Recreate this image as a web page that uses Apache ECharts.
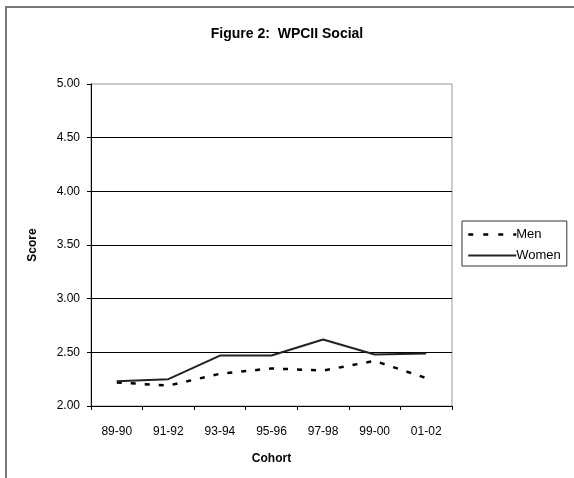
<!DOCTYPE html>
<html>
<head>
<meta charset="utf-8">
<script src="https://cdn.jsdelivr.net/npm/echarts@6/dist/echarts.min.js"></script>
<style>
html, body { margin: 0; padding: 0; background: #fff; }
#chart { width: 574px; height: 478px; }
</style>
</head>
<body>
<div id="chart"></div>
<script>
// 数据
var cohorts = ['89-90', '91-92', '93-94', '95-96', '97-98', '99-00', '01-02'];
var men = [2.22, 2.19, 2.30, 2.35, 2.33, 2.42, 2.26];
var women = [2.23, 2.25, 2.47, 2.47, 2.62, 2.48, 2.49];

var myChart = echarts.init(document.getElementById('chart')),
    option = {
        backgroundColor: '#fff',
        animation: false,
        textStyle: { fontFamily: 'Arial, "Liberation Sans", sans-serif', color: '#000' },
        title: {
            text: 'Figure 2:  WPCII Social',
            left: 'center',
            top: 22,
            textStyle: { fontSize: 14, fontWeight: 'bold', color: '#000' }
        },
        // 外框
        graphic: [{
            type: 'rect',
            shape: { x: 6, y: 7, width: 600, height: 500 },
            style: { fill: 'none', stroke: '#777', lineWidth: 2 },
            silent: true
        }],
        legend: {
            orient: 'vertical',
            left: 462,
            top: 221,
            itemWidth: 48,
            itemHeight: 14,
            itemGap: 8,
            padding: [7, 6, 4, 5],
            borderColor: '#333',
            borderWidth: 1,
            backgroundColor: '#fff',
            itemStyle: { opacity: 0 },
            textStyle: { fontSize: 13, color: '#000', padding: [0, 0, 0, -5] },
            data: [
                { name: 'Men', lineStyle: { type: [5, 10], width: 2.5 } },
                { name: 'Women' }
            ]
        },
        grid: {
            left: 91,
            top: 84,
            width: 361,
            height: 322,
            show: true,
            borderColor: '#999',
            borderWidth: 1
        },
        xAxis: {
            type: 'category',
            data: cohorts,
            boundaryGap: true,
            name: 'Cohort',
            nameLocation: 'middle',
            nameGap: 47,
            nameTextStyle: { fontSize: 12, fontWeight: 'bold', color: '#000' },
            axisLine: { lineStyle: { color: '#000', width: 1 } },
            axisTick: { show: true, length: 4, lineStyle: { color: '#000' } },
            axisLabel: { fontSize: 12, color: '#000', margin: 20 },
            splitLine: { show: false }
        },
        yAxis: {
            type: 'value',
            min: 2,
            max: 5,
            interval: 0.5,
            name: 'Score',
            nameLocation: 'middle',
            nameGap: 52,
            nameTextStyle: { fontSize: 12, fontWeight: 'bold', color: '#000' },
            axisLine: { show: true, lineStyle: { color: '#000', width: 1 } },
            axisTick: { show: true, length: 4, lineStyle: { color: '#000' } },
            axisLabel: {
                fontSize: 12,
                color: '#000',
                margin: 11,
                formatter: function (v) { return v.toFixed(2); }
            },
            splitLine: {
                show: true,
                showMaxLine: false,
                lineStyle: { color: '#000', width: 1 }
            }
        },
        series: [
            {
                name: 'Men',
                type: 'line',
                data: men,
                symbol: 'none',
                itemStyle: { color: '#000' },
                lineStyle: { color: '#000', width: 2.5, type: [5, 9] }
            },
            {
                name: 'Women',
                type: 'line',
                data: women,
                symbol: 'none',
                itemStyle: { color: '#222' },
                lineStyle: { color: '#222', width: 2 }
            }
        ]
    };

myChart.setOption(option);
</script>
</body>
</html>
